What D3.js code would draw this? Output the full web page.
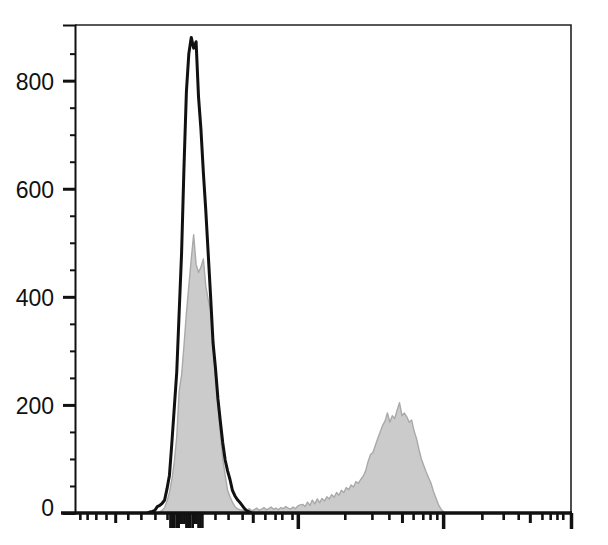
<!DOCTYPE html>
<html>
<head>
<meta charset="utf-8">
<script src="https://cdn.jsdelivr.net/npm/d3@7/dist/d3.min.js"></script>
<style>
  html, body { margin: 0; padding: 0; background: #fff; }
  svg { display: block; }
</style>
</head>
<body>
<script>
// ---- data (x in display channels 0..1024, y in cell counts) ----
const channelStart = 150;
const channelStep = 5;

// unstained control (black outline)
const controlCounts = [
  0, 2, 3, 5, 12, 14, 18, 24, 45, 70, 130, 195, 260, 370, 480, 640, 780, 850, 880, 860,
  872, 770, 710, 630, 560, 480, 400, 315, 268, 212, 170, 130, 98, 78, 62, 42, 32, 25, 20, 14,
  8, 4, 2, 0
];

// stained sample (grey filled)
const sampleCounts = [
  0, 0, 0, 0, 0, 2, 5, 10, 22, 38, 62, 95, 140, 225, 255, 310, 370, 420, 470, 515,
  460, 445, 455, 470, 420, 395, 375, 310, 255, 200, 148, 100, 70, 42, 30, 20, 12, 8, 6, 5,
  4, 5, 8, 4, 6, 9, 5, 7, 10, 6, 8, 11, 7, 9, 6, 10, 8, 12, 9, 7,
  11, 8, 13, 15, 16, 12, 20, 14, 24, 17, 26, 19, 27, 22, 30, 26, 34, 29, 38, 33,
  42, 38, 47, 43, 52, 48, 58, 55, 62, 68, 78, 95, 108, 112, 125, 138, 150, 162, 170, 185,
  168, 180, 175, 190, 204, 180, 185, 178, 168, 172, 152, 138, 118, 100, 88, 76, 65, 55, 40, 28,
  16, 8, 3, 0
];

const yTickValues = [0, 200, 400, 600, 800];
const yMinorValues = [50, 100, 150, 250, 300, 350, 450, 500, 550, 650, 700, 750, 850];

// x-axis (biexponential display) ticks, in channels
const xTicksMajor = [460, 760, 1024];
const xTicksMedium = [83, 367, 675, 939];
const xTicksMinor = [10, 25, 43, 64, 109, 136, 165, 190, 289, 316, 345, 392, 413, 427, 448,
  557, 613, 648, 698, 718, 733, 747, 840, 884, 915, 964, 981, 995, 1007];
const xTicksZeroLong = [196, 200, 204, 209, 213, 229, 233, 237, 242, 254, 258, 262];
const xTicksZeroShort = [217, 221, 225, 246, 250];

// ---- layout ----
const W = 608, H = 545;
const mLeft = 75, mRight = 571, mTop = 25, mBottom = 513;

const svg = d3.select("body").append("svg").attr("width", W).attr("height", H);

const x = d3.scaleLinear().domain([0, 1024]).range([mLeft, mRight]);
const y = d3.scaleLinear().domain([0, 903]).range([mBottom, mTop]);

const sample = sampleCounts.map((v, i) => ({ c: channelStart + i * channelStep, v }));
const control = controlCounts.map((v, i) => ({ c: channelStart + i * channelStep, v }));

// grey filled histogram
svg.append("path")
  .datum(sample)
  .attr("d", d3.area().x(d => x(d.c)).y0(y(0)).y1(d => y(d.v)))
  .attr("fill", "#cbcbcb")
  .attr("stroke", "#a9a9a9")
  .attr("stroke-width", 1.4)
  .attr("stroke-linejoin", "round");

// black outline histogram
svg.append("path")
  .datum(control)
  .attr("d", d3.line().x(d => x(d.c)).y(d => y(d.v)))
  .attr("fill", "none")
  .attr("stroke", "#111")
  .attr("stroke-width", 3)
  .attr("stroke-linejoin", "round");

// frame (top/right)
svg.append("path")
  .attr("d", `M${mLeft},${mTop}H${mRight}V${mBottom}`)
  .attr("fill", "none")
  .attr("stroke", "#222")
  .attr("stroke-width", 1.6);

// y axis
const yAxis = d3.axisLeft(y).tickValues(yTickValues).tickSize(12).tickPadding(9)
  .tickFormat(d3.format("d"));
const gy = svg.append("g").attr("transform", `translate(${mLeft},0)`).call(yAxis);
gy.select(".domain").attr("stroke", "#111").attr("stroke-width", 2);
gy.selectAll(".tick line").attr("stroke", "#111").attr("stroke-width", 3);
gy.selectAll(".tick text")
  .attr("font-family", "Liberation Sans, Arial, sans-serif")
  .attr("font-size", 23)
  .attr("fill", "#111")
  .attr("dy", d => d === 0 ? "0.1em" : "0.38em");

const gyMinor = svg.append("g").attr("transform", `translate(${mLeft},0)`)
  .call(d3.axisLeft(y).tickValues(yMinorValues).tickSize(5).tickFormat(""));
gyMinor.select(".domain").remove();
gyMinor.selectAll(".tick line").attr("stroke", "#111").attr("stroke-width", 2);

// x axis ticks
function xTicks(values, size, width) {
  const g = svg.append("g").attr("transform", `translate(0,${mBottom})`)
    .call(d3.axisBottom(x).tickValues(values).tickSize(size).tickFormat(""));
  g.select(".domain").remove();
  g.selectAll(".tick line").attr("stroke", "#111").attr("stroke-width", width);
}
xTicks(xTicksMinor, 7, 2.6);
xTicks(xTicksMedium, 10, 3);
xTicks(xTicksMajor, 16, 3.5);
xTicks(xTicksZeroLong, 15, 2.6);
xTicks(xTicksZeroShort, 11, 2.6);

// bottom axis line (extends slightly past the left axis)
svg.append("line")
  .attr("x1", mLeft - 14).attr("x2", mRight + 1)
  .attr("y1", mBottom).attr("y2", mBottom)
  .attr("stroke", "#111").attr("stroke-width", 3.4);
</script>
</body>
</html>
